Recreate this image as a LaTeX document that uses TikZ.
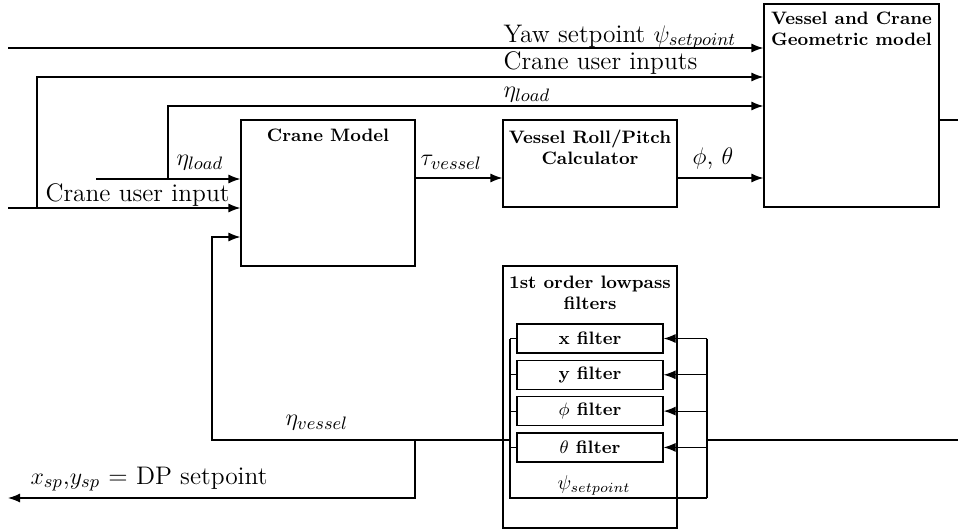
\documentclass[tikz,border=0pt]{standalone}
\usetikzlibrary{arrows.meta,calc}
\begin{document}
\begin{tikzpicture}[x=0.5pt,y=-0.5pt,
  line width=0.6pt,
  arr/.style={-{Latex[length=6pt,width=4.5pt]}},
  box/.style 2 args={draw,rectangle,inner sep=0pt,minimum width=#1*0.5pt,minimum height=#2*0.5pt},
  ttl/.style={inner sep=0pt,align=center,font=\fontsize{9}{10.5}\selectfont\bfseries,anchor=north},
  ftxt/.style={font=\fontsize{9}{10.5}\selectfont\bfseries},
  lbl/.style={inner sep=0pt,anchor=base west,font=\fontsize{12.7}{15}\selectfont},
  slbl/.style={inner sep=0pt,anchor=base west,font=\fontsize{10}{12}\selectfont}
]
\useasboundingbox (0,0) rectangle (958,530);

% blocks
\node[box={175}{203}] (geo) at (851.5,105.5) {};
\node[ttl] (geot) at (851.5,11.5) {Vessel and Crane\\Geometric model};
\node[box={174}{146}] (crane) at (328,193) {};
\node[ttl] (cranet) at (328,128) {Crane Model};
\node[box={174}{87}] (rp) at (590,163.5) {};
\node[ttl] (rpt) at (590,129.5) {Vessel Roll/Pitch\\Calculator};
\node[box={174}{262}] (lp) at (590,397) {};
\node[ttl] (lpt) at (590,275) {1st order lowpass\\filters};
\node[box={146}{29},ftxt] (fx) at (590,338.5) {x filter};
\node[box={146}{29},ftxt] (fy) at (590,374.8) {y filter};
\node[box={146}{29},ftxt] (fphi) at (590,411.1) {$\phi$ filter};
\node[box={146}{29},ftxt] (fth) at (590,447.4) {$\theta$ filter};

% yaw setpoint
\coordinate (yawL) at (8,48);
\draw[arr] (yawL) -- (yawL -| geo.west);
\node[lbl] (yawlbl) at (503,42) {Yaw setpoint $\psi_{setpoint}$};

% crane user input(s)
\coordinate (cuiL) at (8,208);
\draw[arr] (cuiL) -- (cuiL -| crane.west);
\node[lbl] (cuilbl) at (45,201) {Crane user input};
\coordinate (cuiB) at (37,208);
\coordinate (cuiT) at (37,77);
\draw[arr] (cuiB) -- (cuiT) -- (cuiT -| geo.west);
\node[lbl] (cuislbl) at (503,69) {Crane user inputs};

% eta load
\coordinate (etaL) at (96,179);
\draw[arr] (etaL) -- (etaL -| crane.west);
\node[lbl] (etalbl) at (176,165) {$\eta_{load}$};
\coordinate (etaB) at (168,179);
\coordinate (etaT) at (168,106);
\draw[arr] (etaB) -- (etaT) -- (etaT -| geo.west);
\node[lbl] (etalbl2) at (503,97) {$\eta_{load}$};

% tau vessel and phi theta
\coordinate (y178) at (0,178);
\draw[arr] (crane.east |- y178) -- (rp.west |- y178);
\node[lbl] (taulbl) at (420,165) {$\tau_{vessel}$};
\draw[arr] (rp.east |- y178) -- (geo.west |- y178);
\node[lbl] (phlbl) at (692,164) {$\phi$, $\theta$};

% geometric model output
\coordinate (outR) at (958,120);
\draw (geo.east |- outR) -- (outR);

% filter inputs
\coordinate (inR) at (958,440);
\coordinate (rb) at (707,440);
\coordinate (rbB) at (707,498);
\draw (inR) -- (rb);
\draw (rb |- fx.east) -- (rbB);
\foreach \f in {fx,fy,fphi,fth} {
  \draw[arr] (rb |- \f.east) -- (\f.east);
}
\coordinate (lbB) at (510,498);
\draw (rbB) -- (lbB) -- (lbB |- fx.west);
\foreach \f in {fx,fy,fphi,fth} {
  \draw (lbB |- \f.west) -- (\f.west);
}
\node[slbl] (psilbl) at (557,489) {$\psi_{setpoint}$};

% eta vessel feedback
\coordinate (lbM) at (510,440);
\coordinate (fbk) at (212,440);
\coordinate (cin3) at (212,237);
\draw[arr] (lbM) -- (fbk) -- (cin3) -- (cin3 -| crane.west);
\node[lbl] (evlbl) at (285,425) {$\eta_{vessel}$};

% DP setpoint output
\coordinate (dpT) at (415,440);
\coordinate (dpB) at (415,498);
\coordinate (dpL) at (8,498);
\draw[arr] (dpT) -- (dpB) -- (dpL);
\node[lbl] (dplbl) at (30,484) {$x_{sp}$,$y_{sp}$ = DP setpoint};
\end{tikzpicture}
\end{document}
